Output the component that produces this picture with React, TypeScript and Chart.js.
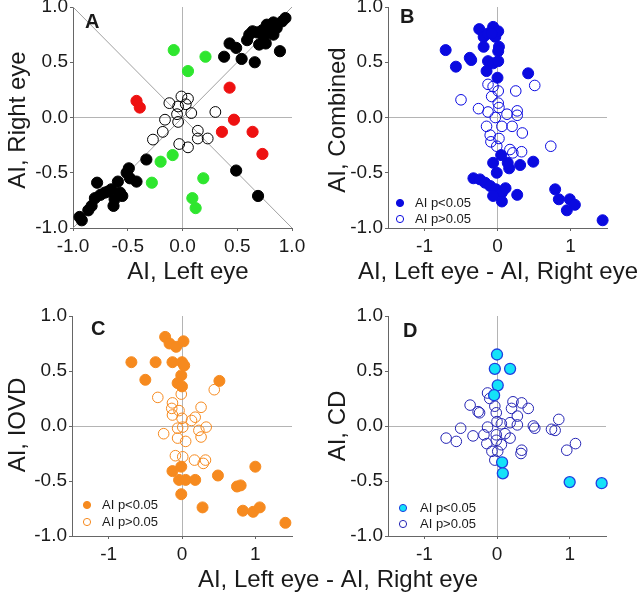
import React, { useEffect, useRef } from "react";
import { Chart, registerables } from "chart.js";

Chart.register(...registerables);

const FONT = '"Liberation Sans", Arial, Helvetica, sans-serif';

// ---------- tick values / labels ----------
const yTickValues = [-1, -0.5, 0, 0.5, 1];
const yTickLabels = ["-1.0", "-0.5", "0.0", "0.5", "1.0"];
const aXTickValues = [-1, -0.5, 0, 0.5, 1];
const aXTickLabels = ["-1.0", "-0.5", "0.0", "0.5", "1.0"];
const diffXTickValues = [-1, 0, 1];
const diffXTickLabels = ["-1", "0", "1"];
const legendLabels = ["AI p<0.05", "AI p>0.05"];

// ---------- Panel A ----------
const diagX = [-1, 1];
const diagY = [-1, 1];
const antiDiagY = [1, -1];

const aBlackX = [0.43, 0.38, 0.49, 0.54, 0.59, 0.61, 0.66, 0.70, 0.68, 0.73, 0.77, 0.80, 0.83, 0.86, 0.89, 0.91, 0.94, 0.74, 0.64, 0.76, 0.83,
  -0.92, -0.94, -0.86, -0.83, -0.78, -0.80, -0.75, -0.71, -0.68, -0.65, -0.63, -0.62, -0.57, -0.59, -0.55, -0.51, -0.49, -0.48, -0.42, -0.33,
  0.49, 0.69];
const aBlackY = [0.67, 0.55, 0.63, 0.53, 0.70, 0.75, 0.50, 0.66, 0.77, 0.79, 0.84, 0.77, 0.86, 0.81, 0.60, 0.87, 0.90, 0.73, 0.78, 0.67, 0.75,
  -0.93, -0.90, -0.84, -0.80, -0.59, -0.73, -0.70, -0.68, -0.67, -0.65, -0.80, -0.74, -0.68, -0.58, -0.71, -0.50, -0.46, -0.55, -0.58, -0.38,
  -0.48, -0.71];
const aGreenX = [-0.08, 0.21, 0.05, -0.20, -0.09, -0.28, 0.19, 0.09, 0.12];
const aGreenY = [0.61, 0.55, 0.42, -0.40, -0.34, -0.59, -0.55, -0.73, -0.82];
const aRedX = [-0.42, -0.39, 0.43, 0.47, 0.36, 0.64, 0.73];
const aRedY = [0.15, 0.09, 0.27, -0.02, -0.13, -0.13, -0.33];
const aOpenX = [-0.12, -0.01, 0.05, -0.04, 0.03, 0.08, 0.30, -0.05, -0.16, -0.04, -0.18, -0.27, 0.14, 0.14, 0.23, -0.03, 0.05];
const aOpenY = [0.13, 0.19, 0.17, 0.10, 0.12, 0.04, 0.05, 0.03, -0.02, -0.04, -0.13, -0.20, -0.12, -0.19, -0.19, -0.24, -0.27];

// ---------- Panel B ----------
const bSigX = [-0.71, -0.57, -0.38, -0.36, -0.25, -0.19, -0.19, -0.13, -0.06, -0.03, 0.01, 0.02, 0.01, -0.13, -0.06, 0.01, -0.15, 0.0, 0.42, -0.08,
  0.05, -0.06, -0.01, -0.33, -0.24, -0.17, -0.10, -0.02, 0.06, 0.11, -0.06, 0.06, 0.16, 0.31, 0.14, 0.49, 0.27, 0.79, 0.84, 0.99, 0.95, 1.06, 1.44];
const bSigY = [0.61, 0.46, 0.54, 0.52, 0.80, 0.73, 0.64, 0.76, 0.82, 0.73, 0.78, 0.64, 0.60, 0.51, 0.49, 0.51, 0.42, 0.36, 0.40, 0.76,
  -0.34, -0.41, -0.50, -0.55, -0.56, -0.59, -0.62, -0.65, -0.68, -0.64, -0.71, -0.76, -0.46, -0.43, -0.41, -0.40, -0.70, -0.65, -0.74, -0.74, -0.84, -0.79, -0.93];
const bNsX = [-0.50, -0.13, 0.01, 0.25, 0.51, -0.26, -0.13, -0.08, 0.01, 0.02, -0.03, 0.13, 0.27, 0.27, -0.15, 0.06, 0.20, 0.34, -0.10, 0.02, -0.09, -0.01, 0.17, 0.21, 0.33, 0.73, -0.06];
const bNsY = [0.16, 0.30, 0.24, 0.24, 0.29, 0.08, 0.05, 0.19, 0.13, 0.09, 0.0, 0.03, 0.06, 0.02, -0.08, -0.08, -0.08, -0.14, -0.16, -0.19, -0.22, -0.26, -0.29, -0.32, -0.31, -0.26, 0.28];

// ---------- Panel C ----------
const cSigX = [-0.69, -0.50, -0.36, -0.23, -0.17, -0.08, 0.02, -0.13, 0.0, 0.03, -0.01, -0.06, 0.0, 0.51,
  -0.13, -0.01, -0.04, 0.05, 0.18, -0.01, 0.28, 0.49, 0.75, 0.80, 1.0, 0.97, 0.83, 1.06, 1.41];
const cSigY = [0.58, 0.42, 0.58, 0.81, 0.75, 0.72, 0.77, 0.58, 0.58, 0.55, 0.46, 0.39, 0.36, 0.41,
  -0.41, -0.37, -0.49, -0.49, -0.49, -0.62, -0.74, -0.45, -0.55, -0.54, -0.37, -0.78, -0.77, -0.74, -0.88];
const cNsX = [-0.33, -0.01, 0.44, -0.13, -0.14, -0.04, -0.13, 0.26, 0.18, 0.13, 0.0, 0.01, -0.06, -0.25, 0.23, 0.33, -0.06, 0.05, 0.26, -0.09, 0.01, 0.17, 0.32, 0.29];
const cNsY = [0.26, 0.29, 0.33, 0.21, 0.16, 0.14, 0.10, 0.17, 0.08, 0.05, 0.07, -0.01, -0.02, -0.07, -0.04, -0.01, -0.11, -0.14, -0.10, -0.27, -0.28, -0.31, -0.31, -0.34];

// ---------- Panel D ----------
const dSigX = [0.0, -0.03, 0.18, 0.01, -0.04, 0.07, 0.08, 1.0, 1.44];
const dSigY = [0.65, 0.52, 0.52, 0.37, 0.28, -0.33, -0.43, -0.51, -0.52];
const dNsX = [-0.70, -0.56, -0.50, -0.37, -0.33, -0.24, -0.26, -0.18, -0.13, -0.13, -0.10, -0.14, -0.07, -0.03, -0.01, 0.0, -0.01, -0.01, 0.06, 0.01,
  -0.03, 0.11, 0.18, 0.22, 0.20, 0.34, 0.43, 0.28, 0.28, 0.34, 0.33, 0.50, 0.52, 0.75, 0.80, 0.85, 0.96, 1.08, 0.18, 0.06];
const dNsY = [-0.11, -0.14, -0.02, 0.19, -0.09, 0.12, 0.13, -0.08, 0.30, -0.01, 0.25, -0.16, -0.23, 0.18, 0.12, 0.04, -0.08, -0.13, -0.17, -0.23,
  -0.31, -0.07, -0.11, 0.22, 0.16, 0.21, 0.16, 0.09, 0.01, -0.22, -0.25, 0.0, -0.02, -0.03, -0.04, 0.06, -0.22, -0.16, 0.03, 0.02];

// ---------- helpers ----------
const pts = (xs: number[], ys: number[]) => xs.map((x, i) => ({ x, y: ys[i] }));

const scatterDs = (label: string, xs: number[], ys: number[], fill: string, border: string, bw: number, r: number) => ({
  label,
  data: pts(xs, ys),
  backgroundColor: fill,
  borderColor: border,
  borderWidth: bw,
  pointRadius: r,
  pointHoverRadius: r,
  pointBorderWidth: bw,
  clip: false as any,
  order: 0,
});

const lineDs = (label: string, xs: number[], ys: number[], color: string) => ({
  label,
  data: pts(xs, ys),
  showLine: true,
  borderColor: color,
  backgroundColor: color,
  borderWidth: 1,
  pointRadius: 0,
  pointHoverRadius: 0,
  order: 10,
});

type TextItem = { text: string; x: number; y: number; rotate?: boolean; size: number; bold?: boolean; align?: CanvasTextAlign };
type LegendItem = { ds: number; x: number; y: number; tx: number };

type PanelCfg = {
  left: number; top: number; w: number; h: number;
  pad: { left: number; top: number; right: number; bottom: number };
  yW: number; xH: number;
  xMin: number; xMax: number;
  xTicks: number[]; xLabels: string[];
  datasets: any[];
  texts: TextItem[];
  legend?: LegendItem[];
};

const makeTextPlugin = (cfg: PanelCfg) => ({
  id: "panelText",
  afterDraw(chart: any) {
    const ctx: CanvasRenderingContext2D = chart.ctx;
    ctx.save();
    ctx.fillStyle = "#1a1a1a";
    for (const t of cfg.texts) {
      ctx.save();
      ctx.font = `${t.bold ? "bold " : ""}${t.size}px ${FONT}`;
      ctx.textAlign = t.align || "center";
      ctx.textBaseline = "alphabetic";
      ctx.translate(t.x, t.y);
      if (t.rotate) ctx.rotate(-Math.PI / 2);
      ctx.fillText(t.text, 0, 0);
      ctx.restore();
    }
    if (cfg.legend) {
      cfg.legend.forEach((l, i) => {
        const ds = chart.data.datasets[l.ds];
        ctx.beginPath();
        ctx.arc(l.x, l.y, 3.6, 0, Math.PI * 2);
        ctx.fillStyle = ds.backgroundColor;
        ctx.fill();
        ctx.lineWidth = 1;
        ctx.strokeStyle = ds.borderColor;
        ctx.stroke();
        ctx.fillStyle = "#1a1a1a";
        ctx.font = `13px ${FONT}`;
        ctx.textAlign = "left";
        ctx.textBaseline = "middle";
        ctx.fillText(legendLabels[i], l.tx, l.y);
      });
    }
    ctx.restore();
  },
});

const zeroGrid = (ctx: any) => (ctx.tick && ctx.tick.value === 0 ? "#b4b4b4" : "rgba(0,0,0,0)");

const buildConfig = (cfg: PanelCfg): any => ({
  type: "scatter",
  data: { datasets: cfg.datasets },
  options: {
    animation: false,
    responsive: false,
    maintainAspectRatio: false,
    events: [],
    layout: { padding: cfg.pad },
    plugins: { legend: { display: false }, tooltip: { enabled: false } },
    scales: {
      x: {
        type: "linear",
        min: cfg.xMin,
        max: cfg.xMax,
        afterBuildTicks: (s: any) => { s.ticks = cfg.xTicks.map((v) => ({ value: v })); },
        afterFit: (s: any) => { s.height = cfg.xH; s.paddingLeft = 0; s.paddingRight = 0; },
        ticks: {
          callback: (_v: any, i: number) => cfg.xLabels[i],
          font: { family: FONT, size: 19 },
          color: "#1a1a1a",
          padding: 4,
          maxRotation: 0,
          autoSkip: false,
        },
        grid: { color: zeroGrid, tickColor: "#666", tickLength: 3, lineWidth: 1 },
        border: { display: true, color: "#666", width: 1 },
      },
      y: {
        type: "linear",
        min: -1,
        max: 1,
        afterBuildTicks: (s: any) => { s.ticks = yTickValues.map((v) => ({ value: v })); },
        afterFit: (s: any) => { s.width = cfg.yW; s.paddingTop = 0; s.paddingBottom = 0; },
        ticks: {
          callback: (_v: any, i: number) => yTickLabels[i],
          font: { family: FONT, size: 19 },
          color: "#1a1a1a",
          padding: 2,
          autoSkip: false,
        },
        grid: { color: zeroGrid, tickColor: "#666", tickLength: 3, lineWidth: 1 },
        border: { display: true, color: "#666", width: 1 },
      },
    },
  },
  plugins: [makeTextPlugin(cfg)],
});

function Panel({ cfg }: { cfg: PanelCfg }) {
  const ref = useRef<HTMLCanvasElement>(null);
  useEffect(() => {
    const chart = new Chart(ref.current as HTMLCanvasElement, buildConfig(cfg));
    return () => chart.destroy();
  }, []);
  return (
    <canvas
      ref={ref}
      width={cfg.w}
      height={cfg.h}
      style={{ position: "absolute", left: cfg.left, top: cfg.top, width: cfg.w, height: cfg.h }}
    />
  );
}

const BLUE = "#0a0ae0";
const ORANGE = "#f68a1f";
const CYAN = "#14e2f8";
const NAVY = "#2424b4";

const panelA: PanelCfg = {
  left: 0, top: 0, w: 320, h: 300,
  pad: { left: 0, top: 7, right: 28, bottom: 32 },
  yW: 73, xH: 40, xMin: -1, xMax: 1,
  xTicks: aXTickValues, xLabels: aXTickLabels,
  datasets: [
    scatterDs("Black", aBlackX, aBlackY, "#000000", "#000000", 1, 5.6),
    scatterDs("Green", aGreenX, aGreenY, "#2ee62e", "#2ee62e", 1, 5.6),
    scatterDs("Red", aRedX, aRedY, "#ee1111", "#ee1111", 1, 5.6),
    scatterDs("Open", aOpenX, aOpenY, "rgba(255,255,255,0)", "#000000", 1, 5.4),
    lineDs("y=x", diagX, diagY, "#a0a0a0"),
    lineDs("y=-x", diagX, antiDiagY, "#a0a0a0"),
  ],
  texts: [
    { text: "AI, Left eye", x: 188, y: 279, size: 24 },
    { text: "AI, Right eye", x: 25, y: 120, size: 24, rotate: true },
    { text: "A", x: 85, y: 28, size: 20, bold: true, align: "left" },
  ],
};

const panelB: PanelCfg = {
  left: 320, top: 0, w: 320, h: 300,
  pad: { left: 0, top: 7, right: 33, bottom: 32 },
  yW: 68, xH: 40, xMin: -1.5, xMax: 1.5,
  xTicks: diffXTickValues, xLabels: diffXTickLabels,
  datasets: [
    scatterDs("AI p<0.05", bSigX, bSigY, BLUE, BLUE, 1, 5.5),
    scatterDs("AI p>0.05", bNsX, bNsY, "rgba(255,255,255,0)", BLUE, 1, 5.3),
  ],
  texts: [
    { text: "AI, Left eye - AI, Right eye", x: 178, y: 279, size: 24 },
    { text: "AI, Combined", x: 25, y: 120, size: 24, rotate: true },
    { text: "B", x: 80, y: 23, size: 20, bold: true, align: "left" },
  ],
  legend: [
    { ds: 0, x: 80, y: 203, tx: 95 },
    { ds: 1, x: 80, y: 219, tx: 95 },
  ],
};

const panelC: PanelCfg = {
  left: 0, top: 300, w: 640, h: 296,
  pad: { left: 0, top: 16, right: 348, bottom: 20 },
  yW: 72, xH: 40, xMin: -1.5, xMax: 1.5,
  xTicks: diffXTickValues, xLabels: diffXTickLabels,
  datasets: [
    scatterDs("AI p<0.05", cSigX, cSigY, ORANGE, ORANGE, 1, 5.5),
    scatterDs("AI p>0.05", cNsX, cNsY, "rgba(255,255,255,0)", ORANGE, 1, 5.3),
  ],
  texts: [
    { text: "AI, Left eye - AI, Right eye", x: 338, y: 287, size: 24 },
    { text: "AI, IOVD", x: 25, y: 125, size: 24, rotate: true },
    { text: "C", x: 91, y: 35, size: 20, bold: true, align: "left" },
  ],
  legend: [
    { ds: 0, x: 87, y: 205, tx: 102 },
    { ds: 1, x: 87, y: 222, tx: 102 },
  ],
};

const panelD: PanelCfg = {
  left: 320, top: 300, w: 320, h: 296,
  pad: { left: 0, top: 16, right: 34, bottom: 20 },
  yW: 68, xH: 40, xMin: -1.5, xMax: 1.5,
  xTicks: diffXTickValues, xLabels: diffXTickLabels,
  datasets: [
    scatterDs("AI p<0.05", dSigX, dSigY, CYAN, "#1f3fe0", 1.3, 5.5),
    scatterDs("AI p>0.05", dNsX, dNsY, "rgba(255,255,255,0)", NAVY, 1, 5.3),
  ],
  texts: [
    { text: "AI, CD", x: 25, y: 126, size: 24, rotate: true },
    { text: "D", x: 83, y: 37, size: 20, bold: true, align: "left" },
  ],
  legend: [
    { ds: 0, x: 83, y: 208, tx: 100 },
    { ds: 1, x: 83, y: 224, tx: 100 },
  ],
};

export default function App() {
  return (
    <div style={{ position: "absolute", left: 0, top: 0, width: 640, height: 596, background: "#ffffff", overflow: "hidden" }}>
      <Panel cfg={panelA} />
      <Panel cfg={panelB} />
      <Panel cfg={panelC} />
      <Panel cfg={panelD} />
    </div>
  );
}
